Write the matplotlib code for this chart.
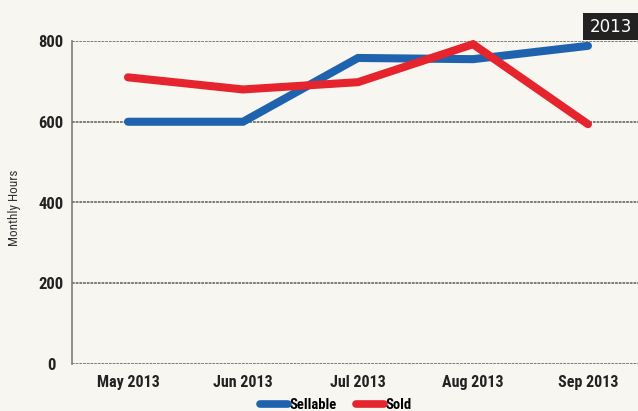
import matplotlib
matplotlib.use("Agg")
import matplotlib.pyplot as plt
from matplotlib.lines import Line2D
from matplotlib.patches import Rectangle
from matplotlib import font_manager

months = ["May 2013", "Jun 2013", "Jul 2013", "Aug 2013", "Sep 2013"]
sellable = [600, 600, 758, 755, 788]
sold = [710, 680, 698, 792, 594]
y_ticks = [0, 200, 400, 600, 800]

BG = "#f7f6f1"
BLUE = "#1f63ae"
RED = "#e5242d"
GRID = "#7d7d72"

# pick a narrow sans face if one is available
installed = {f.name for f in font_manager.fontManager.ttflist}
narrow = next((n for n in ["Liberation Sans Narrow", "DejaVu Sans Condensed",
                           "Roboto Condensed", "Open Sans Condensed"]
               if n in installed), None)
COND = [narrow, "DejaVu Sans"] if narrow else ["Liberation Sans", "DejaVu Sans"]

fig = plt.figure(figsize=(6.38, 4.11), dpi=100, facecolor=BG)
ax = fig.add_axes([72 / 638, 1 - 364 / 411, 1 - 72 / 638, (364 - 41) / 411])
ax.set_facecolor(BG)

x = list(range(len(months)))
ax.plot(x, sellable, color=BLUE, lw=5.8, solid_capstyle="round",
        solid_joinstyle="miter", clip_on=False, zorder=3)
ax.plot(x, sold, color=RED, lw=5.8, solid_capstyle="round",
        solid_joinstyle="miter", clip_on=False, zorder=4)

ax.set_xlim(-0.487, 4.435)
ax.set_ylim(0, 800)
ax.set_yticks(y_ticks)
ax.set_yticklabels([str(v) for v in y_ticks], family=COND, fontweight="bold",
                   fontsize=12, color="#222222", ha="center")
ax.set_xticks(x)
ax.set_xticklabels(months, family=COND, fontweight="bold", fontsize=11.5,
                   color="#222222")
ax.tick_params(axis="both", length=0)
ax.tick_params(axis="y", pad=15)
ax.tick_params(axis="x", pad=8)

for v in y_ticks:
    ax.axhline(v, color=GRID, lw=1.4, ls=(0, (1.4, 0.5)), zorder=1)
for s in ["top", "right", "bottom"]:
    ax.spines[s].set_visible(False)
ax.spines["left"].set_color(GRID)
ax.spines["left"].set_linewidth(1.2)

fig.text(15 / 638, 1 - 208 / 411, "Monthly Hours", rotation=90, ha="center",
         va="center", fontsize=9.5, color="#333333", family=COND)

# year tag in the top-right corner
fig.add_artist(Rectangle((583 / 638, 1 - 40 / 411), 55 / 638, 27 / 411,
                         transform=fig.transFigure, fc="#222222", ec="none"))
fig.text(611 / 638, 1 - 27 / 411, "2013", ha="center", va="center",
         color="white", fontsize=12, family=["DejaVu Sans"])

handles = [Line2D([0], [0], color=BLUE, lw=5.5, solid_capstyle="round"),
           Line2D([0], [0], color=RED, lw=5.5, solid_capstyle="round")]
fig.legend(handles, ["Sellable", "Sold"], loc="center",
           bbox_to_anchor=(336 / 638, 1 - 405 / 411), ncol=2, frameon=False,
           handlelength=1.9, handletextpad=0.15, columnspacing=1.3,
           prop={"family": COND, "weight": "bold", "size": 10.5})

fig.savefig("out.png", dpi=100, facecolor=BG)
